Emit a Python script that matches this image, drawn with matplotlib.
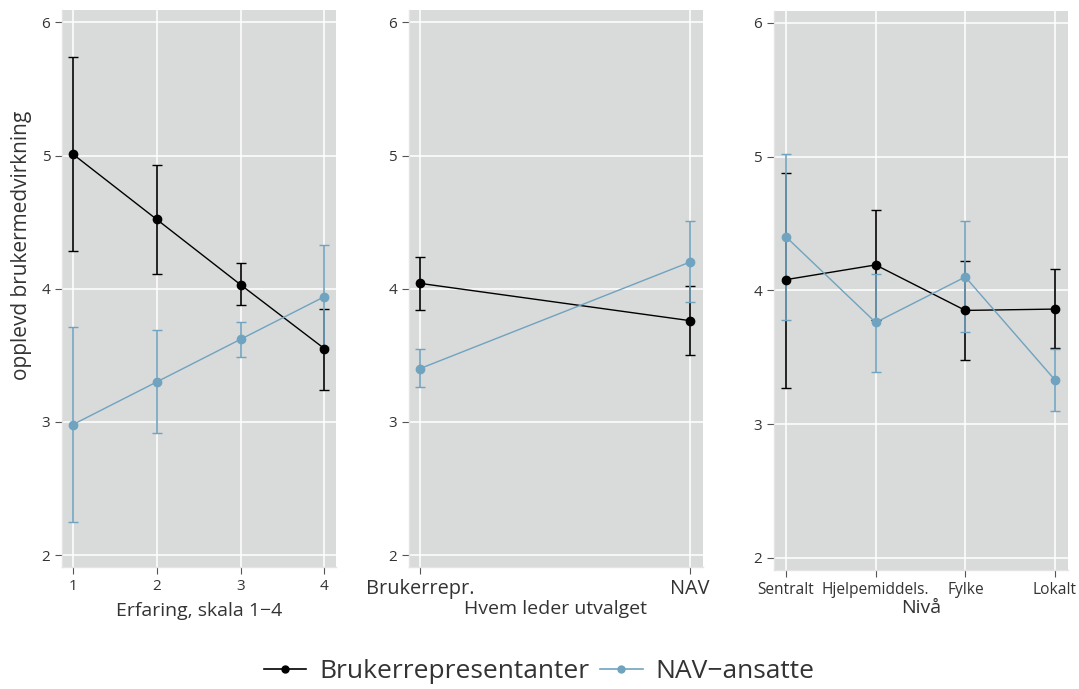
import matplotlib.pyplot as plt
from matplotlib.lines import Line2D

plt.rcParams['font.family'] = ['Open Sans', 'DejaVu Sans']

# ====================== DATA ======================
series_names = ["Brukerrepresentanter", "NAV\u2212ansatte"]

# Panel 1: Erfaring
erfaring_x = [1, 2, 3, 4]
erfaring_bruker = [5.01, 4.52, 4.03, 3.55]
erfaring_bruker_lo = [4.28, 4.11, 3.88, 3.24]
erfaring_bruker_hi = [5.74, 4.93, 4.19, 3.85]
erfaring_nav = [2.98, 3.30, 3.62, 3.94]
erfaring_nav_lo = [2.25, 2.92, 3.49, 3.56]
erfaring_nav_hi = [3.71, 3.69, 3.75, 4.33]

# Panel 2: Hvem leder utvalget
leder_labels = ["Brukerrepr.", "NAV"]
leder_bruker = [4.04, 3.76]
leder_bruker_lo = [3.84, 3.50]
leder_bruker_hi = [4.24, 4.02]
leder_nav = [3.40, 4.20]
leder_nav_lo = [3.26, 3.90]
leder_nav_hi = [3.55, 4.51]

# Panel 3: Nivaa
niva_labels = ["Sentralt", "Hjelpemiddels.", "Fylke", "Lokalt"]
niva_bruker = [4.08, 4.19, 3.85, 3.86]
niva_bruker_lo = [3.27, 3.78, 3.48, 3.57]
niva_bruker_hi = [4.88, 4.60, 4.22, 4.16]
niva_nav = [4.40, 3.76, 4.10, 3.33]
niva_nav_lo = [3.78, 3.39, 3.69, 3.10]
niva_nav_hi = [5.02, 4.12, 4.52, 3.56]

# ====================== STYLE ======================
BLACK = "#000000"
BLUE = "#6fa3bf"
PANEL_BG = "#d9dada"
TEXT_COLOR = "#333333"


def style_axes(ax):
    ax.set_facecolor(PANEL_BG)
    ax.grid(True, color="white", linewidth=1.1)
    ax.set_axisbelow(True)
    for side in ["top", "right"]:
        ax.spines[side].set_visible(False)
    for side in ["left", "bottom"]:
        ax.spines[side].set_color("#e4e4e4")
        ax.spines[side].set_linewidth(1.0)
    ax.set_ylim(1.91, 6.09)
    ax.set_yticks([2, 3, 4, 5, 6])
    ax.tick_params(axis="both", colors="#555555", labelcolor=TEXT_COLOR,
                   length=5, width=0.8, labelsize=11)


def draw_series(ax, x, y, lo, hi, color):
    yerr = [[m - l for m, l in zip(y, lo)], [h - m for m, h in zip(y, hi)]]
    ax.errorbar(x, y, yerr=yerr, color=color, marker="o", markersize=6,
                linewidth=1.0, elinewidth=1.2, capsize=3.5, capthick=1.0)


fig = plt.figure(figsize=(10.79, 6.89), dpi=100)

# ---- panel 1
ax1 = fig.add_axes([0.0575, 0.177, 0.254, 0.808])
style_axes(ax1)
draw_series(ax1, erfaring_x, erfaring_bruker, erfaring_bruker_lo, erfaring_bruker_hi, BLACK)
draw_series(ax1, erfaring_x, erfaring_nav, erfaring_nav_lo, erfaring_nav_hi, BLUE)
ax1.set_xlim(0.87, 4.14)
ax1.set_xticks(erfaring_x)
ax1.set_xlabel("Erfaring, skala 1\u22124", fontsize=14, color=TEXT_COLOR, labelpad=6)
ax1.set_ylabel("opplevd brukermedvirkning", fontsize=15, color=TEXT_COLOR)
ax1.yaxis.set_label_coords(-0.111, 0.578)

# ---- panel 2
ax2 = fig.add_axes([0.379, 0.177, 0.2725, 0.808])
style_axes(ax2)
lx = list(range(len(leder_labels)))
draw_series(ax2, lx, leder_bruker, leder_bruker_lo, leder_bruker_hi, BLACK)
draw_series(ax2, lx, leder_nav, leder_nav_lo, leder_nav_hi, BLUE)
ax2.set_xlim(-0.041, 1.048)
ax2.set_xticks(lx)
ax2.set_xticklabels(leder_labels, fontsize=14.3)
ax2.set_xlabel("Hvem leder utvalget", fontsize=14, color=TEXT_COLOR, labelpad=1)

# ---- panel 3
ax3 = fig.add_axes([0.7173, 0.1727, 0.2725, 0.8118])
style_axes(ax3)
nx = list(range(len(niva_labels)))
draw_series(ax3, nx, niva_bruker, niva_bruker_lo, niva_bruker_hi, BLACK)
draw_series(ax3, nx, niva_nav, niva_nav_lo, niva_nav_hi, BLUE)
ax3.set_xlim(-0.134, 3.145)
ax3.set_xticks(nx)
ax3.set_xticklabels(niva_labels, fontsize=11.2)
ax3.set_xlabel("Niv\u00e5", fontsize=14, color=TEXT_COLOR, labelpad=1)

# ---- legend
handles = [Line2D([], [], color=c, marker="o", markersize=5, linewidth=1.2)
           for c in [BLACK, BLUE]]
fig.legend(handles, series_names, loc="lower center", bbox_to_anchor=(0.5, -0.027),
           ncol=2, frameon=False, fontsize=19, handlelength=1.6,
           handletextpad=0.5, columnspacing=0.4, labelcolor=TEXT_COLOR)

fig.savefig("out.png", dpi=100)
